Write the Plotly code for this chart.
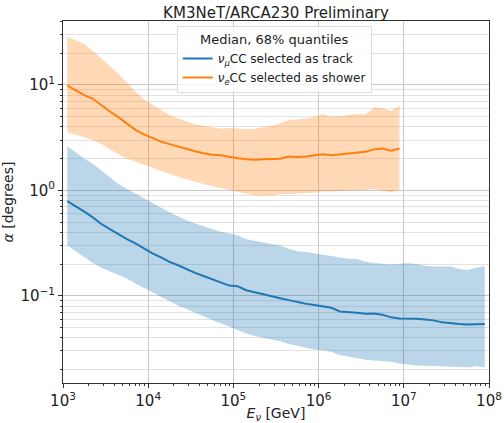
import numpy as np
import plotly.graph_objects as go

# Bin centres in log10(E/GeV)
log_e_track = np.round(np.arange(3.05, 8.0, 0.1), 2)
log_e_shower = np.round(np.arange(3.05, 7.0, 0.1), 2)

# numu CC selected as track: median and 68% band [degrees]
track_median = [0.79, 0.71, 0.63, 0.555, 0.48, 0.43, 0.385, 0.345, 0.315, 0.28,
                0.253, 0.232, 0.21, 0.195, 0.178, 0.165, 0.154, 0.143, 0.133, 0.125,
                0.123, 0.113, 0.108, 0.103, 0.0995, 0.095, 0.091, 0.087, 0.084, 0.082,
                0.080, 0.077, 0.071, 0.0705, 0.069, 0.0675, 0.068, 0.066, 0.0625, 0.061,
                0.061, 0.0605, 0.0595, 0.0585, 0.056, 0.0548, 0.054, 0.0535, 0.0535, 0.054]
track_upper = [2.63, 2.3, 2.0, 1.79, 1.55, 1.32, 1.15, 1.03, 0.93, 0.84,
               0.76, 0.68, 0.62, 0.57, 0.52, 0.485, 0.455, 0.43, 0.405, 0.39,
               0.375, 0.345, 0.33, 0.32, 0.31, 0.30, 0.28, 0.265, 0.26, 0.252,
               0.247, 0.24, 0.23, 0.225, 0.224, 0.21, 0.205, 0.202, 0.198, 0.201,
               0.204, 0.2, 0.193, 0.19, 0.191, 0.19, 0.18, 0.176, 0.185, 0.192]
track_lower = [0.30, 0.265, 0.235, 0.205, 0.185, 0.17, 0.157, 0.146, 0.131, 0.118,
               0.108, 0.098, 0.089, 0.081, 0.075, 0.069, 0.064, 0.059, 0.055, 0.051,
               0.048, 0.044, 0.0415, 0.040, 0.0385, 0.037, 0.035, 0.0335, 0.0325, 0.031,
               0.0305, 0.0295, 0.0275, 0.0265, 0.0258, 0.0248, 0.0243, 0.024, 0.0237, 0.0228,
               0.0222, 0.0218, 0.0217, 0.0216, 0.0215, 0.0212, 0.0213, 0.021, 0.0215, 0.021]

# nue CC selected as shower: median and 68% band [degrees]
shower_median = [9.85, 8.9, 8.0, 7.4, 6.4, 5.6, 4.95, 4.3, 3.75, 3.4,
                 3.15, 2.9, 2.75, 2.6, 2.45, 2.35, 2.25, 2.18, 2.15, 2.08,
                 2.02, 1.98, 1.95, 1.97, 1.98, 2.0, 2.1, 2.07, 2.1, 2.15,
                 2.2, 2.16, 2.2, 2.25, 2.27, 2.33, 2.45, 2.5, 2.38, 2.5]
shower_upper = [28.7, 26.5, 24.5, 21.0, 18.0, 15.2, 12.8, 10.5, 8.7, 7.3,
                6.5, 5.8, 5.2, 4.8, 4.5, 4.25, 4.1, 3.95, 3.85, 3.9,
                3.85, 3.8, 3.85, 3.95, 4.1, 4.33, 4.65, 4.7, 4.8, 5.0,
                5.3, 5.0, 5.05, 5.2, 5.3, 5.25, 6.1, 6.0, 5.7, 6.4]
shower_lower = [3.56, 3.4, 3.2, 3.0, 2.75, 2.45, 2.2, 2.0, 1.88, 1.75,
                1.65, 1.53, 1.43, 1.35, 1.27, 1.21, 1.15, 1.1, 1.06, 1.01,
                0.97, 0.93, 0.9, 0.89, 0.9, 0.92, 0.925, 0.93, 0.93, 0.95,
                0.975, 0.98, 1.0, 1.0, 1.0, 1.005, 1.03, 0.99, 0.96, 1.01]

# Tick decades
x_decades = [3, 4, 5, 6, 7, 8]
y_decades = [-1, 0, 1]

BLUE = "#1f77b4"
ORANGE = "#ff7f0e"
FONT = "DejaVu Sans"


def power_label(p):
    s = str(p).replace("-", "−")
    return f"10<sup>{s}</sup>"


e_track = 10 ** log_e_track
e_shower = 10 ** log_e_shower

fig = go.Figure()


def add_series(x, lo, hi, med, color, fill, name):
    fig.add_trace(go.Scatter(x=x, y=lo, mode="lines", line=dict(width=0),
                             showlegend=False, hoverinfo="skip"))
    fig.add_trace(go.Scatter(x=x, y=hi, mode="lines", line=dict(width=0),
                             fill="tonexty", fillcolor=fill,
                             showlegend=False, hoverinfo="skip"))
    fig.add_trace(go.Scatter(x=x, y=med, mode="lines",
                             line=dict(color=color, width=2), name=name))


add_series(e_track, track_lower, track_upper, track_median, BLUE,
           "rgba(31,119,180,0.3)", "<i>ν</i><sub><i>μ</i></sub>CC selected as track")
add_series(e_shower, shower_lower, shower_upper, shower_median, ORANGE,
           "rgba(255,127,14,0.3)", "<i>ν</i><sub><i>e</i></sub>CC selected as shower")

axis_common = dict(
    type="log", automargin=False,
    showline=True, mirror=True, linecolor="#333", linewidth=1,
    ticks="outside", ticklen=4, tickcolor="#333",
    showgrid=True, gridcolor="#c8c8c8", gridwidth=1,
    tickfont=dict(family=FONT, size=15, color="#222"),
    zeroline=False,
)

fig.update_xaxes(
    **axis_common, range=[3, 8],
    tickvals=[10 ** p for p in x_decades],
    ticktext=[power_label(p) for p in x_decades],
    minor=dict(ticks="outside", ticklen=2, tickcolor="#333", dtick="D1", showgrid=False),
    title=dict(text="<i>E</i><sub><i>ν</i></sub> [GeV]", font=dict(family=FONT, size=14, color="#222"),
               standoff=2),
)
fig.update_yaxes(
    **axis_common, range=[-1.827, 1.607],
    tickvals=[10 ** p for p in y_decades],
    ticktext=[power_label(p) for p in y_decades],
    minor=dict(ticks="outside", ticklen=2, tickcolor="#333", dtick="D1",
               showgrid=True, gridcolor="#e2e2e2", gridwidth=1),
    title=dict(text="<i>α</i> [degrees]", font=dict(family=FONT, size=14, color="#222"),
               standoff=4),
)

fig.update_layout(
    width=504, height=423,
    margin=dict(l=63, r=15, t=21, b=40),
    paper_bgcolor="white", plot_bgcolor="white",
    font=dict(family=FONT, color="#222"),
    title=dict(text="KM3NeT/ARCA230 Preliminary", x=0.5, xanchor="center",
               xref="paper", y=0.982, yanchor="top",
               font=dict(family=FONT, size=15, color="#222")),
    legend=dict(
        x=0.267, y=0.986, xanchor="left", yanchor="top",
        traceorder="normal",
        bgcolor="rgba(255,255,255,0.8)", bordercolor="#dddddd", borderwidth=1,
        font=dict(family=FONT, size=12, color="#222"),
        title=dict(text="Median, 68% quantiles", side="top center",
                   font=dict(family=FONT, size=13, color="#222")),
        tracegroupgap=0, itemwidth=30,
    ),
)

fig.write_html("out.html")
